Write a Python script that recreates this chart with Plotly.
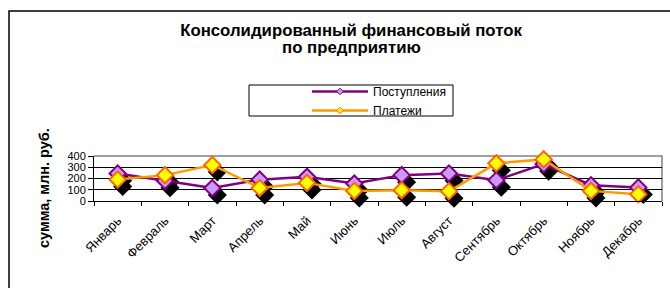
import plotly.graph_objects as go

months = ["Январь", "Февраль", "Март", "Апрель", "Май", "Июнь",
          "Июль", "Август", "Сентябрь", "Октябрь", "Ноябрь", "Декабрь"]
receipts = [245, 180, 115, 190, 215, 155, 230, 245, 185, 328, 140, 120]   # Поступления
payments = [191, 230, 320, 116, 161, 90, 96, 87, 335, 370, 90, 60]        # Платежи
y_ticks = [0, 100, 200, 300, 400]
y_title = "сумма, млн. руб."
title_line1 = "Консолидированный финансовый поток"
title_line2 = "по предприятию"

W, H = 670, 288
PL, PR, PT, PB = 94, 662, 156, 201   # plot area in pixels
pw, ph = PR - PL, PB - PT


def px(x):
    return (x - PL) / pw


def py(y):
    return (PB - y) / ph


ncat = len(months)
cat_w = pw / ncat
shadow_dx, shadow_dy = 5, 7
yr = [0, 400]
dy_units = shadow_dy * (yr[1] - yr[0]) / ph
dx_units = shadow_dx / cat_w

PURPLE = "#800080"
PURPLE_FILL = "#CC99FF"
ORANGE_LINE = "#FF9900"
ORANGE_EDGE = "#FF6600"
YELLOW = "#FFFF00"
MS = 12.5

fig = go.Figure()

# shadows (main hidden axes, shifted ranges)
for vals in (receipts, payments):
    fig.add_trace(go.Scatter(
        x=months, y=vals, mode="markers", xaxis="x", yaxis="y",
        marker=dict(symbol="diamond", size=MS, color="black",
                    line=dict(color="black", width=2)),
        cliponaxis=False, showlegend=False, hoverinfo="skip"))

# real series
fig.add_trace(go.Scatter(
    x=months, y=receipts, mode="lines+markers", xaxis="x2", yaxis="y2",
    line=dict(color=PURPLE, width=2.5),
    marker=dict(symbol="diamond", size=MS, color=PURPLE_FILL,
                line=dict(color=PURPLE, width=2)),
    cliponaxis=False, showlegend=False, name="Поступления"))
fig.add_trace(go.Scatter(
    x=months, y=payments, mode="lines+markers", xaxis="x2", yaxis="y2",
    line=dict(color=ORANGE_LINE, width=2.5),
    marker=dict(symbol="diamond", size=MS, color=YELLOW,
                line=dict(color=ORANGE_EDGE, width=2)),
    cliponaxis=False, showlegend=False, name="Платежи"))

# legend entries
fig.add_trace(go.Scatter(
    x=[None], y=[None], mode="lines+markers", xaxis="x2", yaxis="y2",
    name="Поступления", line=dict(color=PURPLE, width=2.5),
    marker=dict(symbol="diamond", size=5, color=PURPLE_FILL,
                line=dict(color=PURPLE, width=1))))
fig.add_trace(go.Scatter(
    x=[None], y=[None], mode="lines+markers", xaxis="x2", yaxis="y2",
    name="Платежи", line=dict(color=ORANGE_LINE, width=2.5),
    marker=dict(symbol="diamond", size=5, color=YELLOW,
                line=dict(color=ORANGE_EDGE, width=1))))

FONT = "Liberation Sans, Arial, sans-serif"
TSIZE = 16.8

fig.update_layout(
    width=W, height=H,
    margin=dict(l=PL, r=W - PR, t=PT, b=H - PB, pad=0, autoexpand=False),
    paper_bgcolor="white", plot_bgcolor="white",
    font=dict(family=FONT, size=12, color="black"),
    title=dict(text=title_line1, x=351 / W, xanchor="center",
               y=1 - 30 / H, yanchor="middle", automargin=False,
               font=dict(family=FONT, size=TSIZE, color="black", weight="bold")),
    annotations=[
        dict(text=title_line2, xref="paper", yref="paper",
             x=px(351), y=py(47), xanchor="center", yanchor="middle",
             showarrow=False,
             font=dict(family=FONT, size=TSIZE, color="black", weight="bold")),
        dict(text=y_title, xref="paper", yref="paper",
             x=px(44), y=py(188), xanchor="center", yanchor="middle",
             textangle=-90, showarrow=False,
             font=dict(family=FONT, size=14.5, color="black", weight="bold")),
    ],
    xaxis=dict(type="category", categoryorder="array", categoryarray=months,
               range=[-0.5 - dx_units, ncat - 0.5 - dx_units],
               visible=False, showgrid=False, zeroline=False, automargin=False),
    yaxis=dict(range=[yr[0] + dy_units, yr[1] + dy_units],
               visible=False, showgrid=False, zeroline=False, automargin=False),
    xaxis2=dict(type="category", categoryorder="array", categoryarray=months,
                overlaying="x", anchor="y2", automargin=False,
                range=[-0.5, ncat - 0.5], showgrid=False, zeroline=False,
                showline=True, linecolor="black", linewidth=1,
                ticks="outside", tickson="boundaries", ticklen=4,
                tickcolor="black", tickangle=-45, ticklabelstandoff=6,
                tickfont=dict(family=FONT, size=13)),
    yaxis2=dict(overlaying="y", anchor="x2", side="left", automargin=False,
                range=yr, tickvals=y_ticks, ticktext=[str(v) for v in y_ticks],
                showgrid=True, gridcolor="black", gridwidth=1, zeroline=False,
                showline=True, linecolor="black", linewidth=1,
                ticks="outside", ticklen=5, tickcolor="black",
                tickfont=dict(family=FONT, size=11)),
    legend=dict(x=px(307), y=py(77), xanchor="left", yanchor="top",
                bgcolor="rgba(0,0,0,0)", borderwidth=0,
                font=dict(family=FONT, size=12), itemwidth=56,
                tracegroupgap=0),
    shapes=[
        # outer chart border
        dict(type="rect", xref="paper", yref="paper",
             x0=px(9), x1=px(720), y0=py(330), y1=py(11),
             line=dict(color="black", width=1.5), layer="below"),
        # legend box
        dict(type="rect", xref="paper", yref="paper",
             x0=px(249), x1=px(453), y0=py(116), y1=py(85),
             line=dict(color="black", width=1), layer="below"),
        # plot area border (top/right gray)
        dict(type="path", xref="paper", yref="paper",
             path=f"M {px(PL)} {py(PT)} L {px(PR)} {py(PT)} L {px(PR)} {py(PB)}",
             line=dict(color="#808080", width=1.5), layer="between"),
    ],
)

fig.write_html("out.html", config={"displayModeBar": False},
               post_script="document.body.style.margin='0px';")
